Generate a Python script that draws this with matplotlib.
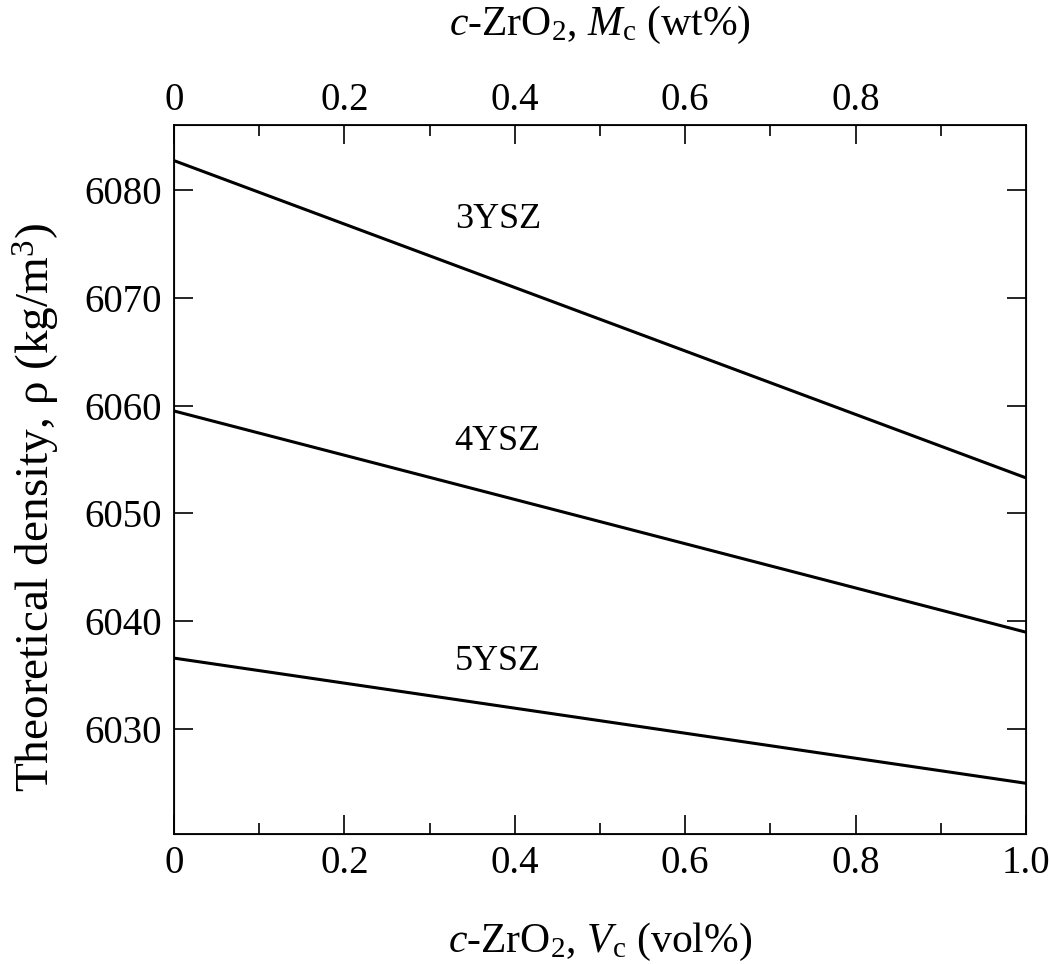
import numpy as np
import matplotlib
matplotlib.use('Agg')
import matplotlib.pyplot as plt
from matplotlib.ticker import MultipleLocator, FixedLocator

# values (end points of each straight line)
vc = [0.0, 1.0]
rho_3ysz = [6082.7, 6053.3]
rho_4ysz = [6059.5, 6039.0]
rho_5ysz = [6036.6, 6025.0]
names = ['3YSZ', '4YSZ', '5YSZ']
label_pos = [(0.38, 6077.2), (0.38, 6056.7), (0.38, 6036.3)]

plt.rcParams['font.family'] = 'Liberation Serif'
plt.rcParams['mathtext.fontset'] = 'custom'
plt.rcParams['mathtext.rm'] = 'Liberation Serif'
plt.rcParams['mathtext.it'] = 'Liberation Serif:italic'

fig = plt.figure(figsize=(10.5, 9.64), dpi=100)
ax = fig.add_axes([174/1050, 1-834/964, 852/1050, (834-125)/964])

for r in [rho_3ysz, rho_4ysz, rho_5ysz]:
    ax.plot(vc, r, color='black', lw=2.2, solid_capstyle='butt')
for n, (x, y) in zip(names, label_pos):
    ax.text(x, y, n, fontsize=26, ha='center', va='center')

ax.set_xlim(0, 1)
ax.set_ylim(6020.3, 6086.0)
ax.xaxis.set_minor_locator(MultipleLocator(0.1))
ax.yaxis.set_major_locator(MultipleLocator(10))
ax.set_xticks([0, 0.2, 0.4, 0.6, 0.8, 1.0])
ax.set_xticklabels(['0', '0.2', '0.4', '0.6', '0.8', '1.0'])
ax.tick_params(axis='both', which='major', direction='in', length=14, width=1.2,
               labelsize=28, right=True)
ax.tick_params(axis='x', which='major', pad=8)
ax.tick_params(axis='y', which='major', pad=9)
ax.tick_params(axis='x', which='minor', direction='in', length=8, width=1.2)
for s in ax.spines.values():
    s.set_linewidth(1.3)

ax.set_xlabel(r'$\it{c}$-ZrO$_2$, $\it{V}$$_\mathrm{c}$ (vol%)', fontsize=30, labelpad=28)
ax.set_ylabel(r'Theoretical density, ρ (kg/m$^3$)', fontsize=34)
ax.yaxis.set_label_coords(-0.132, 0.46)

top = ax.twiny()
top.set_xlim(0, 1)
top.set_xticks([0, 0.2, 0.4, 0.6, 0.8])
top.set_xticklabels(['0', '0.2', '0.4', '0.6', '0.8'])
top.xaxis.set_minor_locator(FixedLocator([0.1, 0.3, 0.5, 0.7, 0.9]))
top.tick_params(axis='x', which='major', direction='in', length=14, width=1.2,
                labelsize=28, pad=4)
top.tick_params(axis='x', which='minor', direction='in', length=8, width=1.2)
top.set_xlabel(r'$\it{c}$-ZrO$_2$, $\it{M}$$_\mathrm{c}$ (wt%)', fontsize=30, labelpad=34)

fig.savefig('out.png', dpi=100)
